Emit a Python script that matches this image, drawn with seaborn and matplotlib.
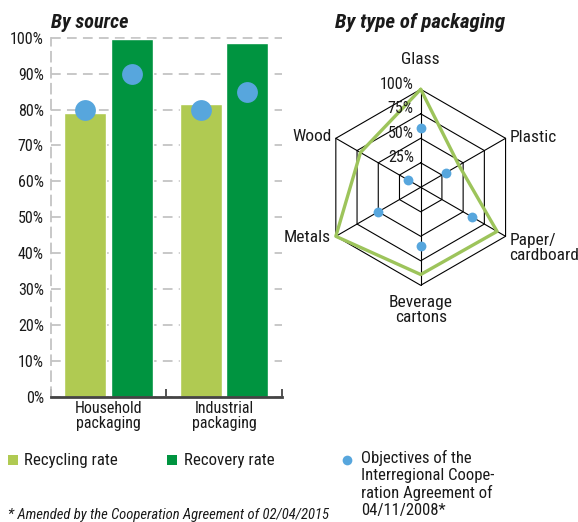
import numpy as np
import pandas as pd
import matplotlib
matplotlib.use("Agg")
import matplotlib.pyplot as plt
import seaborn as sns

# ---------------- data ----------------
sources = ["Household\npackaging", "Industrial\npackaging"]
recycling_rate = [79.0, 81.6]
recovery_rate = [99.7, 98.6]
objective_recycling = [80, 80]
objective_recovery = [90, 85]
bar_ticks = [0, 10, 20, 30, 40, 50, 60, 70, 80, 90, 100]

packaging_types = ["Glass", "Plastic", "Paper/\ncardboard", "Beverage\ncartons", "Metals", "Wood"]
type_recycling = [100, 45, 90, 89, 100, 71]
type_objectives = [60, 30, 60, 60, 50, 15]
radar_rings = [25, 50, 75, 100]

legend_labels = ["Recycling rate", "Recovery rate",
                 "Objectives of the\nInterregional Coope-\nration Agreement of\n04/11/2008*"]
footnote = "* Amended by the Cooperation Agreement of 02/04/2015"

# ---------------- style ----------------
LIGHT = "#b0ca52"
DARK = "#009440"
BLUE = "#57a6dd"
LINE_GREEN = "#9dc45b"
GRID = "#c4c4c4"

sns.set_theme(style="white")
FONT = ["Roboto Condensed", "Roboto", "DejaVu Sans"]
plt.rcParams["font.family"] = FONT
plt.rcParams["lines.scale_dashes"] = False
plt.rcParams["text.color"] = "#1a1a1a"

W, H = 578, 522
fig = plt.figure(figsize=(W / 100, H / 100), dpi=100)


def px_rect(x0, y0, x1, y1):
    return [x0 / W, 1 - y1 / H, (x1 - x0) / W, (y1 - y0) / H]


# ---------------- bar chart ----------------
ax = fig.add_axes(px_rect(50.7, 37.7, 281.7, 396.7))
df_bars = pd.DataFrame({
    "source": sources * 2,
    "rate": recycling_rate + recovery_rate,
    "kind": ["Recycling rate"] * 2 + ["Recovery rate"] * 2,
})
sns.barplot(data=df_bars, x="source", y="rate", hue="kind",
            palette=[LIGHT, DARK], width=0.8, gap=0.09, saturation=1,
            legend=False, ax=ax, zorder=2)

df_obj = pd.DataFrame({
    "source": sources * 2,
    "objective": objective_recycling + objective_recovery,
    "kind": ["Recycling rate"] * 2 + ["Recovery rate"] * 2,
})
sns.pointplot(data=df_obj, x="source", y="objective", hue="kind",
              palette=[BLUE, BLUE], dodge=0.4, linestyle="none", markers="o",
              markersize=15, markeredgewidth=0, errorbar=None, legend=False,
              ax=ax, zorder=4)

ax.set_xlim(-0.5, 1.5)
ax.set_ylim(0, 100)
ax.set_yticks(bar_ticks)
ax.set_yticklabels([f"{t}%" for t in bar_ticks])
ax.set_xlabel("")
ax.set_ylabel("")
ax.yaxis.grid(True, color=GRID, linestyle=(0, (7, 4.5)), linewidth=1.3)
ax.xaxis.grid(False)
ax.set_axisbelow(True)
for gl in ax.get_ygridlines():
    gl.set_clip_on(False)
for s in ["top", "right"]:
    ax.spines[s].set_visible(False)
ax.spines["left"].set_color(GRID)
ax.spines["left"].set_linestyle((0, (7, 4.5)))
ax.spines["left"].set_linewidth(1.3)
ax.spines["bottom"].set_color("#444444")
ax.spines["bottom"].set_linewidth(2)
ax.spines["bottom"].set_zorder(5)
ax.tick_params(axis="y", length=0, pad=5, labelsize=11.5, labelcolor="#1a1a1a")
ax.tick_params(axis="x", which="major", length=0, pad=3, labelsize=11.5, labelcolor="#1a1a1a")
ax.set_xticks([-0.5, 0.5, 1.5], minor=True)
ax.tick_params(axis="x", which="minor", direction="in", length=6, width=1.3,
               color="#444444", bottom=True)
for lbl in ax.get_xticklabels():
    lbl.set_linespacing(1.0)

fig.text(50.7 / W, 1 - 23 / H, "By source", fontweight="bold", style="italic",
         fontsize=14.5, va="center", ha="left")

# ---------------- radar chart ----------------
scale = 0.98  # px per unit
cx, cy = 420.7, 187.3
x0p, x1p, y0p, y1p = 300, 560, 40, 340
rax = fig.add_axes(px_rect(x0p, y0p, x1p, y1p))
rax.axis("off")

n = len(packaging_types)
theta = np.deg2rad(90 - 360 / n * np.arange(n))
ux, uy = np.cos(theta), np.sin(theta)

for r in radar_rings:
    rax.plot(np.append(r * ux, r * ux[0]), np.append(r * uy, r * uy[0]),
             color="black", lw=0.8, zorder=1)
for i in range(n):
    rax.plot([0, radar_rings[-1] * ux[i]], [0, radar_rings[-1] * uy[i]],
             color="black", lw=0.8, zorder=1)

vals = np.array(type_recycling, dtype=float)
poly = pd.DataFrame({"x": np.append(vals * ux, vals[0] * ux[0]),
                     "y": np.append(vals * uy, vals[0] * uy[0])})
sns.lineplot(data=poly, x="x", y="y", sort=False, estimator=None,
             color=LINE_GREEN, lw=2.4, ax=rax, zorder=3)

objs = np.array(type_objectives, dtype=float)
sns.scatterplot(x=objs * ux, y=objs * uy, color=BLUE, s=50, linewidth=0,
                ax=rax, zorder=4)
rax.set_xlabel("")
rax.set_ylabel("")
rax.set_xlim((x0p - cx) / scale, (x1p - cx) / scale)
rax.set_ylim(-(y1p - cy) / scale, (cy - y0p) / scale)

for r in radar_rings:
    rax.text(-7, r + 5, f"{r}%", ha="right", va="center", fontsize=11.5)

# label offsets (in px) relative to the outer vertex
label_style = [
    (0, 30, "center", "center"),
    (4.5, 1.0, "left", "center"),
    (3.8, -11.4, "left", "center"),
    (0, -25.1, "center", "center"),
    (-5.2, -1.7, "right", "center"),
    (-4.0, 1.3, "right", "center"),
]
R = radar_rings[-1]
for i, name in enumerate(packaging_types):
    dx, dy, ha, va = label_style[i]
    rax.text(R * ux[i] + dx / scale, R * uy[i] + dy / scale, name,
             ha=ha, va=va, fontsize=12.5, linespacing=1.0)

fig.text(420 / W, 1 - 23 / H, "By type of packaging", fontweight="bold",
         style="italic", fontsize=15, va="center", ha="center")

# ---------------- legend & footnote ----------------
lax = fig.add_axes([0, 0, 1, 1])
lax.set_xlim(0, W)
lax.set_ylim(H, 0)
lax.axis("off")
lax.plot([12.5], [460], marker="s", ms=6.8, color=LIGHT, mew=0)
lax.text(24, 460, legend_labels[0], fontsize=12.2, va="center", ha="left")
lax.plot([172], [460], marker="s", ms=6.8, color=DARK, mew=0)
lax.text(184, 460, legend_labels[1], fontsize=12.2, va="center", ha="left")
lax.plot([347], [460], marker="o", ms=7, color=BLUE, mew=0)
lax.text(361, 450, legend_labels[2], fontsize=12, va="top", ha="left",
         linespacing=1.17)
lax.text(8, 515, footnote, fontsize=10.5, style="italic", va="center", ha="left")

fig.savefig("out.png", dpi=100)
